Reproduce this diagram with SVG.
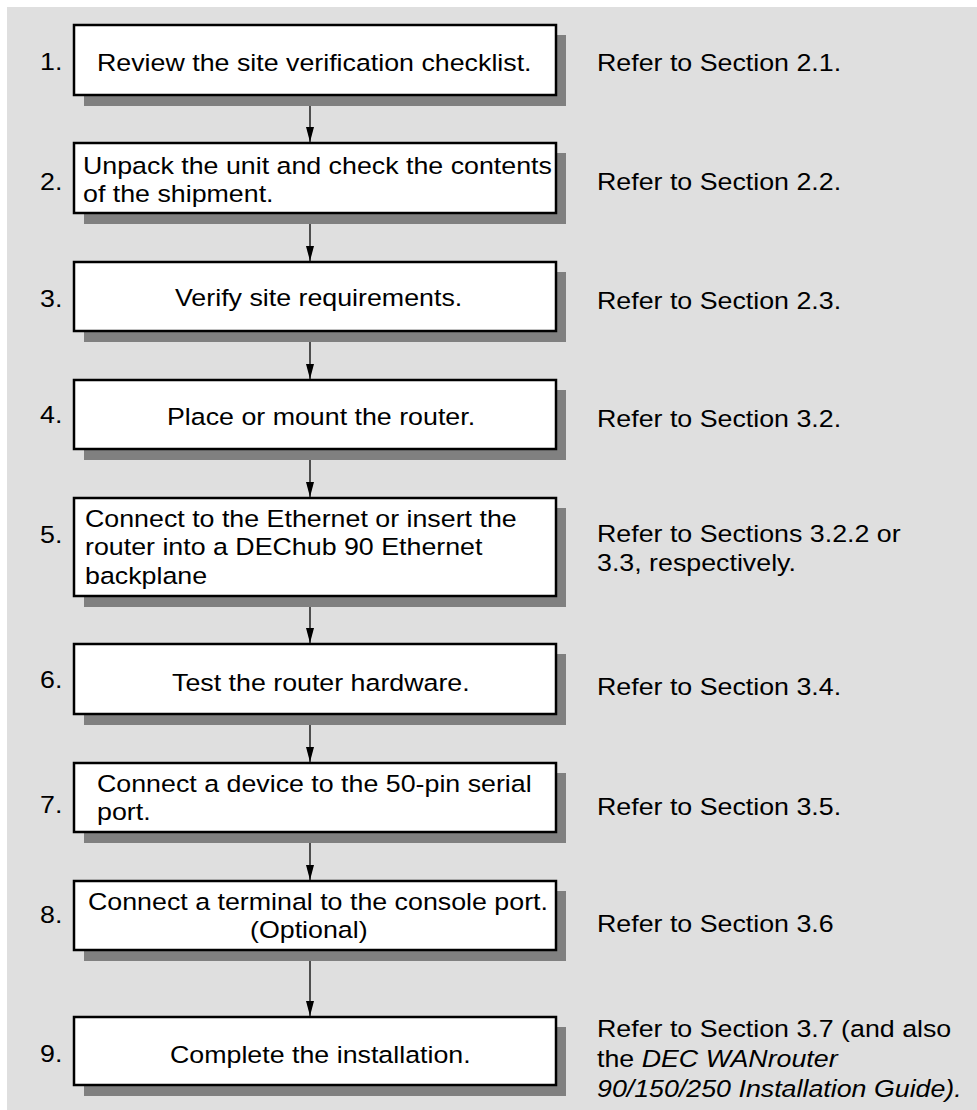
<svg xmlns="http://www.w3.org/2000/svg" width="977" height="1110" viewBox="0 0 977 1110">
<style>
.bg{fill:#dfdfdf}
.sh{fill:#808080}
.bx{fill:#ffffff;stroke:#000000;stroke-width:2.5}
.t{font-family:"Liberation Sans",Arial,Helvetica,sans-serif;font-size:23.5px;fill:#000000}
.i{font-style:italic}
.ln{stroke:#000000;stroke-width:1.3;fill:none}
</style>
<defs>
<marker id="ah" markerUnits="userSpaceOnUse" markerWidth="15" markerHeight="8" refX="15" refY="4" orient="auto" viewBox="0 0 15 8">
<path d="M0,0 L15,4 L0,8 Z" fill="#000000"/>
</marker>
</defs>
<rect class="bg" x="7" y="7" width="970" height="1103"/>

<g id="connectors">
<line class="ln" x1="310" y1="97" x2="310" y2="142" marker-end="url(#ah)"/>
<line class="ln" x1="310" y1="215" x2="310" y2="261" marker-end="url(#ah)"/>
<line class="ln" x1="310" y1="333" x2="310" y2="379" marker-end="url(#ah)"/>
<line class="ln" x1="310" y1="451" x2="310" y2="497" marker-end="url(#ah)"/>
<line class="ln" x1="310" y1="598" x2="310" y2="643" marker-end="url(#ah)"/>
<line class="ln" x1="310" y1="716" x2="310" y2="762" marker-end="url(#ah)"/>
<line class="ln" x1="310" y1="834" x2="310" y2="880" marker-end="url(#ah)"/>
<line class="ln" x1="310" y1="952" x2="310" y2="1016" marker-end="url(#ah)"/>
</g>

<g id="step1">
<rect class="sh" x="84" y="35" width="482" height="71"/>
<rect class="bx" x="74" y="25" width="482" height="70"/>
<g transform="scale(1.14 1)">
<text class="t" x="35.09" y="70">1.</text>
<text class="t" x="85.09" y="71">Review the site verification checklist.</text>
<text class="t" x="523.68" y="71">Refer to Section 2.1.</text>
</g>
</g>

<g id="step2">
<rect class="sh" x="84" y="153" width="482" height="71"/>
<rect class="bx" x="74" y="143" width="482" height="70"/>
<g transform="scale(1.14 1)">
<text class="t" x="35.09" y="190">2.</text>
<text class="t" x="72.81" y="174">Unpack the unit and check the contents</text>
<text class="t" x="72.81" y="202">of the shipment.</text>
<text class="t" x="523.68" y="190">Refer to Section 2.2.</text>
</g>
</g>

<g id="step3">
<rect class="sh" x="84" y="272" width="482" height="70"/>
<rect class="bx" x="74" y="262" width="482" height="69"/>
<g transform="scale(1.14 1)">
<text class="t" x="35.09" y="307">3.</text>
<text class="t" x="153.51" y="306">Verify site requirements.</text>
<text class="t" x="523.68" y="309">Refer to Section 2.3.</text>
</g>
</g>

<g id="step4">
<rect class="sh" x="84" y="390" width="482" height="70"/>
<rect class="bx" x="74" y="380" width="482" height="69"/>
<g transform="scale(1.14 1)">
<text class="t" x="35.09" y="423">4.</text>
<text class="t" x="146.49" y="425">Place or mount the router.</text>
<text class="t" x="523.68" y="427">Refer to Section 3.2.</text>
</g>
</g>

<g id="step5">
<rect class="sh" x="84" y="508" width="482" height="99"/>
<rect class="bx" x="74" y="498" width="482" height="98"/>
<g transform="scale(1.14 1)">
<text class="t" x="35.09" y="543">5.</text>
<text class="t" x="74.56" y="527">Connect to the Ethernet or insert the</text>
<text class="t" x="74.56" y="555">router into a DEChub 90 Ethernet</text>
<text class="t" x="74.56" y="584">backplane</text>
<text class="t" x="523.68" y="542">Refer to Sections 3.2.2 or</text>
<text class="t" x="523.68" y="571">3.3, respectively.</text>
</g>
</g>

<g id="step6">
<rect class="sh" x="84" y="654" width="482" height="71"/>
<rect class="bx" x="74" y="644" width="482" height="70"/>
<g transform="scale(1.14 1)">
<text class="t" x="35.09" y="688">6.</text>
<text class="t" x="150.88" y="691">Test the router hardware.</text>
<text class="t" x="523.68" y="695">Refer to Section 3.4.</text>
</g>
</g>

<g id="step7">
<rect class="sh" x="84" y="773" width="482" height="70"/>
<rect class="bx" x="74" y="763" width="482" height="69"/>
<g transform="scale(1.14 1)">
<text class="t" x="35.09" y="813">7.</text>
<text class="t" x="85.09" y="792">Connect a device to the 50-pin serial</text>
<text class="t" x="85.09" y="820">port.</text>
<text class="t" x="523.68" y="815">Refer to Section 3.5.</text>
</g>
</g>

<g id="step8">
<rect class="sh" x="84" y="891" width="482" height="70"/>
<rect class="bx" x="74" y="881" width="482" height="69"/>
<g transform="scale(1.14 1)">
<text class="t" x="35.09" y="923">8.</text>
<text class="t" x="77.19" y="910">Connect a terminal to the console port.</text>
<text class="t" x="219.30" y="938">(Optional)</text>
<text class="t" x="523.68" y="932">Refer to Section 3.6</text>
</g>
</g>

<g id="step9">
<rect class="sh" x="84" y="1027" width="482" height="69"/>
<rect class="bx" x="74" y="1017" width="482" height="68"/>
<g transform="scale(1.14 1)">
<text class="t" x="35.09" y="1062">9.</text>
<text class="t" x="149.12" y="1063">Complete the installation.</text>
<text class="t" x="523.68" y="1037">Refer to Section 3.7 (and also</text>
<text class="t" x="523.68" y="1067">the <tspan class="i">DEC WANrouter</tspan></text>
<text class="t i" x="523.68" y="1097">90/150/250 Installation Guide).</text>
</g>
</g>
</svg>
